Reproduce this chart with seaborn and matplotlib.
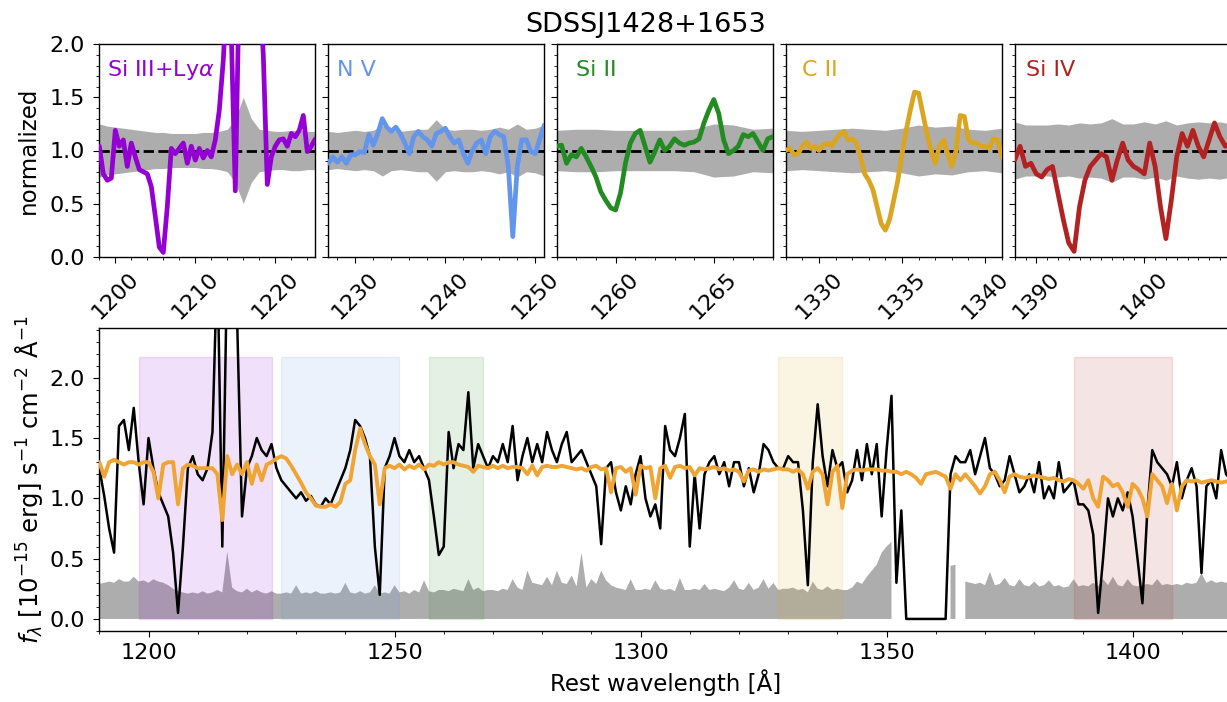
import numpy as np
import matplotlib
matplotlib.use("Agg")
import matplotlib.pyplot as plt
from matplotlib.ticker import MultipleLocator
import seaborn as sns

# ---------------- data ----------------
# Observed spectrum, 1 A grid from 1190 to 1420 A (flux in 1e-15 erg/s/cm2/A)
wave_start, wave_stop = 1190, 1420
flux = [
    1.25, 1.02, 0.75, 0.55, 1.60, 1.65, 1.40, 1.75, 1.30, 0.95,
    1.50, 1.25, 1.05, 0.95, 0.85, 0.55, 0.05, 0.60, 1.25, 1.35,
    1.20, 1.15, 1.25, 1.55, 3.00, 0.60, 3.00, 3.00, 2.50, 0.85,
    1.25, 1.35, 1.50, 1.40, 1.35, 1.45, 1.25, 1.15, 1.10, 1.05,
    1.00, 1.05, 0.98, 1.02, 0.95, 0.93, 1.00, 0.95, 1.05, 1.15,
    1.25, 1.40, 1.65, 1.60, 1.50, 1.35, 0.60, 0.20, 1.25, 1.35,
    1.50, 1.35, 1.30, 1.40, 1.30, 1.35, 1.25, 1.15, 0.85, 0.53,
    0.60, 1.55, 1.25, 1.45, 1.40, 1.88, 1.25, 1.45, 1.35, 1.25,
    1.35, 1.30, 1.45, 1.30, 1.60, 1.15, 1.35, 1.50, 1.30, 1.45,
    1.30, 1.55, 1.40, 1.30, 1.45, 1.55, 1.30, 1.35, 1.40, 1.30,
    1.20, 1.10, 0.62, 1.25, 1.30, 1.05, 0.90, 1.10, 0.95, 1.20,
    1.35, 1.00, 0.85, 0.95, 0.75, 1.60, 1.40, 1.35, 1.50, 1.70,
    0.60, 1.20, 0.75, 1.20, 1.30, 1.35, 1.20, 1.30, 1.10, 1.30,
    1.30, 1.10, 1.25, 1.05, 1.20, 1.45, 1.40, 1.30, 1.25, 1.25,
    1.35, 1.30, 1.30, 0.90, 0.28, 1.30, 1.78, 1.35, 1.10, 1.40,
    1.25, 1.30, 1.05, 1.15, 1.40, 1.15, 1.45, 1.20, 1.45, 0.85,
    1.40, 1.85, 0.30, 0.90, 0.00, 0.00, 0.00, 0.00, 0.00, 0.00,
    0.00, 0.00, 0.00, 1.20, 1.35, 1.30, 1.30, 1.40, 1.20, 1.35,
    1.50, 1.25, 1.20, 1.10, 1.15, 1.35, 1.20, 1.05, 1.10, 1.20,
    1.05, 1.30, 1.00, 1.10, 1.00, 1.30, 1.05, 1.10, 1.15, 0.95,
    0.95, 0.90, 0.70, 0.05, 0.50, 1.00, 0.85, 1.00, 0.90, 1.05,
    0.85, 0.50, 0.13, 0.90, 1.40, 1.30, 1.25, 1.20, 1.10, 1.30,
    1.00, 1.15, 1.25, 1.10, 0.38, 1.10, 1.15, 1.00, 1.40, 1.20,
    1.15,
]

# Composite / model spectrum on the same grid
model = [
    1.30, 1.18, 1.30, 1.32, 1.30, 1.28, 1.30, 1.30, 1.28, 1.30,
    1.30, 1.22, 1.00, 1.28, 1.30, 1.30, 0.95, 1.25, 1.28, 1.27,
    1.25, 1.25, 1.25, 1.25, 1.20, 0.82, 1.35, 1.20, 1.28, 1.20,
    1.30, 1.12, 1.28, 1.15, 1.28, 1.30, 1.33, 1.35, 1.33, 1.27,
    1.20, 1.13, 1.05, 1.00, 0.94, 0.93, 0.93, 0.95, 0.93, 0.97,
    1.12, 1.15, 1.40, 1.58, 1.45, 1.35, 1.28, 0.95, 1.25, 1.27,
    1.25, 1.28, 1.24, 1.27, 1.25, 1.28, 1.24, 1.28, 1.27, 1.30,
    1.28, 1.30, 1.30, 1.28, 1.27, 1.26, 1.22, 1.27, 1.26, 1.25,
    1.27, 1.25, 1.27, 1.25, 1.26, 1.26, 1.25, 1.20, 1.27, 1.19,
    1.26, 1.27, 1.26, 1.26, 1.27, 1.26, 1.25, 1.24, 1.25, 1.23,
    1.26, 1.27, 1.24, 1.25, 1.05, 1.25, 1.26, 1.22, 1.25, 1.03,
    1.27, 1.25, 1.26, 1.00, 1.25, 1.27, 1.17, 1.26, 1.27, 1.25,
    1.26, 1.19, 1.25, 1.24, 1.25, 1.26, 1.24, 1.25, 1.23, 1.24,
    1.22, 1.14, 1.23, 1.24, 1.22, 1.24, 1.23, 1.24, 1.25, 1.24,
    1.24, 1.22, 1.24, 1.20, 1.08, 1.22, 1.25, 1.20, 0.95, 1.22,
    1.27, 0.92, 1.20, 1.23, 1.24, 1.23, 1.24, 1.24, 1.24, 1.23,
    1.23, 1.22, 1.22, 1.20, 1.22, 1.20, 1.17, 1.12, 1.20, 1.21,
    1.22, 1.20, 1.18, 1.08, 1.20, 1.15, 1.20, 1.15, 1.10, 1.04,
    1.10, 1.20, 1.22, 1.15, 1.05, 1.18, 1.20, 1.18, 1.17, 1.18,
    1.19, 1.18, 1.17, 1.16, 1.17, 1.15, 1.14, 1.16, 1.15, 1.12,
    1.08, 1.15, 1.00, 0.93, 1.18, 1.15, 1.10, 1.12, 1.05, 0.93,
    1.12, 1.08, 1.00, 0.85, 1.20, 1.15, 1.10, 0.96, 1.12, 0.90,
    1.10, 1.15, 1.14, 1.15, 1.13, 1.14, 1.15, 1.14, 1.13, 1.14,
    1.14,
]

# Flux uncertainty on the same grid (NaN = masked pixels)
nan = np.nan
error = [
    0.29, 0.30, 0.31, 0.30, 0.33, 0.31, 0.31, 0.35, 0.31, 0.32,
    0.30, 0.33, 0.31, 0.30, 0.28, 0.25, 0.23, 0.22, 0.21, 0.22,
    0.21, 0.23, 0.21, 0.22, 0.24, 0.22, 0.56, 0.26, 0.23, 0.22,
    0.25, 0.22, 0.24, 0.22, 0.21, 0.23, 0.21, 0.21, 0.22, 0.21,
    0.28, 0.21, 0.22, 0.21, 0.23, 0.21, 0.21, 0.22, 0.21, 0.22,
    0.30, 0.22, 0.21, 0.23, 0.21, 0.22, 0.28, 0.21, 0.22, 0.21,
    0.28, 0.22, 0.23, 0.21, 0.24, 0.22, 0.32, 0.23, 0.22, 0.24,
    0.24, 0.23, 0.25, 0.24, 0.23, 0.33, 0.24, 0.26, 0.23, 0.24,
    0.24, 0.23, 0.25, 0.24, 0.33, 0.26, 0.24, 0.40, 0.30, 0.29,
    0.28, 0.35, 0.28, 0.40, 0.30, 0.29, 0.36, 0.27, 0.55, 0.26,
    0.33, 0.29, 0.40, 0.32, 0.28, 0.26, 0.25, 0.24, 0.33, 0.24,
    0.24, 0.25, 0.24, 0.32, 0.25, 0.24, 0.25, 0.23, 0.34, 0.24,
    0.24, 0.25, 0.24, 0.29, 0.24, 0.25, 0.24, 0.23, 0.26, 0.32,
    0.25, 0.24, 0.30, 0.24, 0.26, 0.33, 0.25, 0.30, 0.24, 0.25,
    0.25, 0.26, 0.24, 0.25, 0.22, 0.31, 0.25, 0.24, 0.27, 0.24,
    0.25, 0.24, 0.24, 0.26, 0.31, 0.29, 0.35, 0.40, 0.45, 0.55,
    0.60, 0.64, nan, nan, nan, nan, nan, nan, nan, nan,
    nan, nan, nan, 0.44, 0.45, nan, 0.31, 0.30, 0.29, 0.30,
    0.28, 0.39, 0.28, 0.29, 0.34, 0.28, 0.27, 0.33, 0.28, 0.27,
    0.31, 0.27, 0.28, 0.32, 0.27, 0.28, 0.26, 0.27, 0.33, 0.27,
    0.28, 0.27, 0.30, 0.27, 0.33, 0.28, 0.35, 0.28, 0.27, 0.33,
    0.28, 0.27, 0.28, 0.29, 0.28, 0.33, 0.28, 0.29, 0.28, 0.29,
    0.28, 0.30, 0.29, 0.30, 0.38, 0.30, 0.32, 0.30, 0.31, 0.30,
    0.31,
]

# Line windows: (label, colour, lambda_min, lambda_max)
line_names = ["Si III+Ly$\\alpha$", "N V", "Si II", "C II", "Si IV"]
line_colors = ["darkviolet", "cornflowerblue", "forestgreen", "goldenrod", "firebrick"]
windows = [(1198, 1225), (1227, 1251), (1257, 1268), (1328, 1341), (1388, 1408)]
norm_steps = [0.5, 0.5, 0.25, 0.25, 0.5]
minor_steps = [2, 2, 1, 1, 1]
major_steps = [10, 10, 5, 5, 10]

# Continuum-normalised flux in each window
norm_siIII = [
    1.04, 0.78, 0.72, 0.74, 1.19, 1.04, 1.10, 0.85, 1.07, 0.94,
    0.82, 0.80, 0.78, 0.66, 0.38, 0.09, 0.04, 0.47, 1.02, 0.97,
    1.02, 1.07, 0.88, 1.04, 0.91, 1.02, 0.93, 1.00, 0.94, 1.10,
    1.38, 1.85, 2.60, 2.10, 0.62, 2.60, 2.60, 2.60, 2.60, 2.60,
    2.60, 1.90, 0.68, 0.94, 1.04, 1.10, 1.11, 1.04, 1.16, 1.13,
    1.19, 1.33, 0.99, 1.04, 1.11,
]
norm_nV = [
    0.88, 0.94, 0.89, 0.94, 0.88, 0.96, 0.96, 0.99, 0.98, 1.15,
    1.05, 1.16, 1.30, 1.22, 1.18, 1.22, 1.16, 1.07, 0.97, 1.13,
    1.18, 1.13, 1.10, 1.04, 1.16, 1.18, 1.21, 1.13, 1.07, 1.10,
    0.97, 0.88, 1.00, 1.07, 1.10, 0.97, 1.13, 1.18, 1.15, 1.13,
    0.85, 0.19, 0.85, 1.10, 1.10, 0.99, 0.97, 1.11, 1.24,
]
norm_siII = [
    1.04, 1.05, 0.88, 0.96, 0.94, 1.02, 0.94, 0.85, 0.75, 0.61,
    0.53, 0.46, 0.44, 0.60, 0.88, 1.07, 1.16, 1.19, 1.04, 0.89,
    0.99, 1.10, 1.00, 1.04, 1.11, 1.07, 1.05, 1.07, 1.08, 1.11,
    1.26, 1.38, 1.48, 1.35, 1.10, 0.97, 1.00, 1.04, 1.15, 1.13,
    1.16, 1.08, 1.00, 1.11, 1.13,
]
norm_cII = [
    1.00, 1.02, 0.96, 0.97, 1.04, 1.08, 1.02, 1.04, 1.00, 1.05,
    1.07, 1.04, 1.10, 1.15, 1.18, 1.10, 1.11, 1.07, 0.94, 0.78,
    0.72, 0.63, 0.47, 0.31, 0.25, 0.35, 0.53, 0.72, 0.97, 1.19,
    1.38, 1.55, 1.54, 1.35, 1.16, 1.00, 0.88, 1.04, 1.10, 0.97,
    0.85, 1.00, 1.33, 1.32, 1.10, 1.07, 1.07, 1.04, 1.04, 1.02,
    1.11, 1.10, 0.94,
]
norm_siIV = [
    0.91, 1.04, 0.85, 0.88, 0.78, 0.75, 0.82, 0.85, 0.60, 0.35,
    0.13, 0.05, 0.47, 0.72, 0.85, 0.91, 0.97, 0.94, 0.72, 0.91,
    1.07, 0.91, 0.85, 0.82, 0.78, 1.07, 0.85, 0.47, 0.17, 0.53,
    0.94, 1.16, 1.04, 1.19, 1.04, 0.94, 1.10, 1.26, 1.13, 1.04,
    1.07,
]
# Normalised uncertainty per window, 1 A grid
nerr_siIII = [0.25, 0.23, 0.22, 0.21, 0.20, 0.19, 0.18, 0.17, 0.17, 0.16,
              0.16, 0.16, 0.16, 0.17, 0.17, 0.18, 0.20, 0.30, 0.50, 0.30,
              0.20, 0.19, 0.18, 0.18, 0.19, 0.19, 0.18, 0.18]
nerr_nV = [0.18, 0.17, 0.18, 0.19, 0.18, 0.19, 0.24, 0.19, 0.18, 0.19,
           0.20, 0.20, 0.29, 0.20, 0.19, 0.20, 0.20, 0.19, 0.20, 0.22,
           0.20, 0.25, 0.20, 0.21, 0.24]
nerr_siII = [0.19, 0.20, 0.20, 0.19, 0.19, 0.19, 0.19, 0.20, 0.25, 0.24,
             0.20, 0.21]
nerr_cII = [0.19, 0.18, 0.19, 0.20, 0.21, 0.20, 0.19, 0.21, 0.24, 0.22,
            0.23, 0.20, 0.19, 0.21]
nerr_siIV = [0.27, 0.24, 0.24, 0.24, 0.25, 0.24, 0.26, 0.25, 0.26, 0.30,
             0.25, 0.25, 0.27, 0.25, 0.28, 0.24, 0.26, 0.27, 0.26, 0.27,
             0.25]

norm_flux = [norm_siIII, norm_nV, norm_siII, norm_cII, norm_siIV]
norm_err = [nerr_siIII, nerr_nV, nerr_siII, nerr_cII, nerr_siIV]

title = "SDSSJ1428+1653"

# ---------------- style ----------------
sns.set_style("ticks")
plt.rcParams["font.family"] = ["DejaVu Sans"]
plt.rcParams["mathtext.fontset"] = "dejavusans"
for key in ["text.color", "axes.labelcolor", "xtick.color", "ytick.color",
            "axes.edgecolor"]:
    plt.rcParams[key] = "black"
plt.rcParams["xtick.major.size"] = 4.3
plt.rcParams["ytick.major.size"] = 4.3
plt.rcParams["xtick.minor.size"] = 2.5
plt.rcParams["ytick.minor.size"] = 2.5
plt.rcParams["xtick.major.pad"] = 4.5
plt.rcParams["ytick.major.pad"] = 6.0
FS = 16
LFS = 16.5

W, H = 1227, 702
fig = plt.figure(figsize=(W / 100, H / 100), dpi=100)


def frac_box(x0, y0, x1, y1):
    """Pixel box (left, top, right, bottom) -> figure fraction rect."""
    return [x0 / W, 1 - y1 / H, (x1 - x0) / W, (y1 - y0) / H]


band_grey = "#ADADAD"

# ---------------- top panels ----------------
panel_left = [99.3, 328.3, 556.7, 785.7, 1014.7]
for i, (name, col, (lo, hi)) in enumerate(zip(line_names, line_colors, windows)):
    ax = fig.add_axes(frac_box(panel_left[i], 44.3, panel_left[i] + 216, 256.7))
    nf = np.asarray(norm_flux[i])
    nw = lo + norm_steps[i] * np.arange(len(nf))
    ne = np.asarray(norm_err[i])
    ew = lo + np.arange(len(ne))
    ax.fill_between(ew, 1 - ne, 1 + ne, color=band_grey, lw=0, zorder=1)
    ax.axhline(1.0, color="k", ls="--", lw=2.0, zorder=2)
    sns.lineplot(x=nw, y=nf, ax=ax, color=col, lw=3.4, estimator=None,
                 sort=False, zorder=3)
    ax.text(lo + 1, 1.7, name, color=col, fontsize=FS)
    ax.set_xlim(lo, hi)
    ax.set_ylim(0, 2)
    ax.xaxis.set_major_locator(MultipleLocator(major_steps[i]))
    ax.xaxis.set_minor_locator(MultipleLocator(minor_steps[i]))
    ax.yaxis.set_major_locator(MultipleLocator(0.5))
    ax.yaxis.set_minor_locator(MultipleLocator(0.1))
    ax.tick_params(axis="x", labelrotation=45, labelsize=FS)
    ax.tick_params(axis="y", labelsize=FS)
    ax.set_xlabel("")
    if i == 0:
        ax.set_ylabel("normalized", fontsize=LFS, labelpad=7)
    else:
        ax.set_ylabel("")
        ax.set_yticklabels([])
    for s in ax.spines.values():
        s.set_linewidth(1.0)

# ---------------- main spectrum ----------------
wave = np.arange(wave_start, wave_stop + 1)
axm = fig.add_axes(frac_box(99.3, 328.3, 1231, 631))
axm.fill_between(wave, 0, np.asarray(error), color=band_grey, lw=0, zorder=1)
for col, (lo, hi) in zip(line_colors, windows):
    axm.fill_between([lo, hi], 0, 2.17, color=col, alpha=0.12, lw=1.0,
                     edgecolor=col, zorder=2)
sns.lineplot(x=wave, y=flux, ax=axm, color="k", lw=1.8, estimator=None,
             sort=False, zorder=3)
sns.lineplot(x=wave, y=model, ax=axm, color="#EFA433", lw=2.8, estimator=None,
             sort=False, zorder=4)
axm.set_xlim(1190, 1420)
axm.set_ylim(-0.1, 2.41)
axm.xaxis.set_major_locator(MultipleLocator(50))
axm.xaxis.set_minor_locator(MultipleLocator(10))
axm.yaxis.set_major_locator(MultipleLocator(0.5))
axm.yaxis.set_minor_locator(MultipleLocator(0.1))
axm.tick_params(labelsize=FS)
axm.set_xlabel("Rest wavelength [Å]", fontsize=LFS)
axm.set_ylabel(r"$f_\lambda$ [10$^{-15}$ erg] s$^{-1}$ cm$^{-2}$ Å$^{-1}$",
               fontsize=17.5, labelpad=3)
for s in axm.spines.values():
    s.set_linewidth(1.0)

fig.text(646 / W, 1 - 31.7 / H, title, ha="center", va="baseline", fontsize=19.5)

fig.savefig("out.png", dpi=100)
